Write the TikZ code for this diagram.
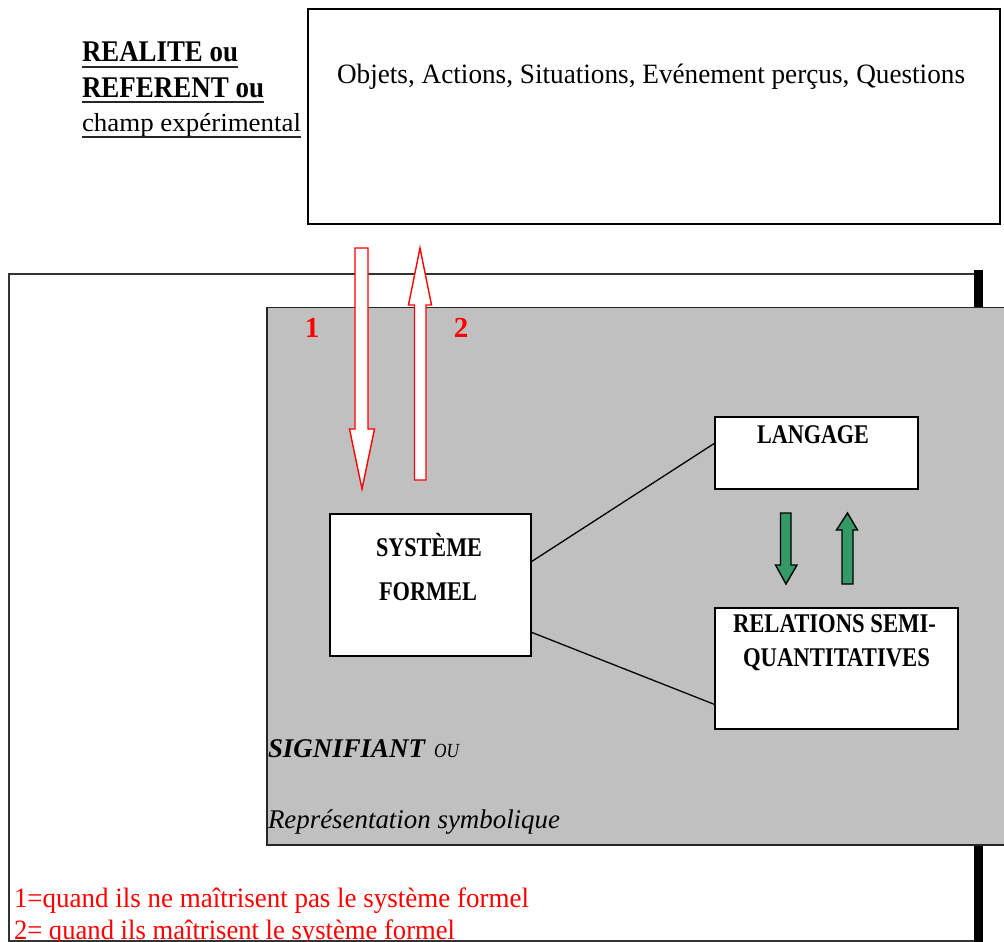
\documentclass[tikz,border=0pt]{standalone}
\usepackage{fontspec}
\setmainfont{Liberation Serif}
\usepackage{graphicx}
\usetikzlibrary{calc}
\definecolor{bggray}{RGB}{192,192,192}
\definecolor{sgreen}{RGB}{51,153,102}
\newcommand{\fw}[2]{\resizebox{#1}{\height}{#2}}
\newcommand{\fs}[1]{\fontsize{#1}{#1}\selectfont}
\begin{document}
\begin{tikzpicture}[x=1pt,y=-1pt,
  box/.style={draw=black,line width=1.6pt,fill=white,inner sep=0,anchor=north west},
  txt/.style={inner sep=0,outer sep=0,anchor=base west},
  ctxt/.style={inner sep=0,outer sep=0,anchor=base},
  redarr/.style={draw=red,fill=white,line width=1.4pt,line join=miter},
  grnarr/.style={draw=black,fill=sgreen,line width=1.4pt,line join=miter},
  link/.style={draw=black,line width=1.3pt},
  uline/.style={draw=black!85,line width=1.6pt}]
\useasboundingbox (0,0) rectangle (1004,942);
\clip (0,0) rectangle (1004,942);
\fill[white] (0,0) rectangle (1004,942);

% outer frame
\draw[line width=1.8pt,draw=black!80] (9,274) rectangle (978,941);
\fill[black] (974,270) rectangle (983,942);
% grey panel
\draw[fill=bggray,line width=1.8pt,draw=black!85] (267,307.5) rectangle (1015,845);

% top box
\node[box,minimum width=692pt,minimum height=215pt] (top) at (307,8) {};
\node[txt] (objets) at (337,83) {\fs{28}\fw{628pt}{Objets, Actions, Situations, Evénement perçus, Questions}};

% left labels
\node[txt] (real) at (82,62) {\fs{30}\bfseries\fw{156pt}{REALITE ou}};
\node[txt] (refe) at (82,97) {\fs{30}\bfseries\fw{182pt}{REFERENT ou}};
\node[txt] (champ) at (82,131) {\fs{26}\fw{219pt}{champ expérimental}};
\draw[uline] ($(real.base west)+(0,5)$) -- ($(real.base east)+(0,5)$);
\draw[uline] ($(refe.base west)+(0,5)$) -- ($(refe.base east)+(0,5)$);
\draw[uline] ($(champ.base west)+(0,6)$) -- ($(champ.base east)+(0,6)$);

% inner boxes
\node[box,minimum width=201pt,minimum height=142pt] (sys) at (329,513) {};
\node[box,minimum width=203pt,minimum height=72pt] (lang) at (714,416) {};
\node[box,minimum width=243pt,minimum height=121pt] (rel) at (714,607) {};

\node[ctxt] (systeme) at (429,556) {\fs{27}\bfseries\fw{106pt}{SYSTÈME}};
\node[ctxt] (formel) at (428,600) {\fs{27}\bfseries\fw{98pt}{FORMEL}};
\node[ctxt] (langage) at (813,443) {\fs{27}\bfseries\fw{112pt}{LANGAGE}};
\node[ctxt] (rel1) at (834.5,632) {\fs{27}\bfseries\fw{203pt}{RELATIONS SEMI-}};
\node[ctxt] (rel2) at (836.5,666) {\fs{27}\bfseries\fw{187pt}{QUANTITATIVES}};

% links
\draw[link] ($(sys.north east)!0.338!(sys.south east)$) -- ($(lang.north west)!0.375!(lang.south west)$);
\draw[link] ($(sys.north east)!0.831!(sys.south east)$) -- ($(rel.north west)!0.793!(rel.south west)$);

% red block arrows
\draw[redarr] (355,248) -- (368,248) -- (368,429) -- (374.5,429) -- (362,489) -- (349.5,429) -- (355,429) -- cycle;
\draw[redarr] (414.5,480) -- (426,480) -- (426,305) -- (431.5,305) -- (420,248) -- (408.5,305) -- (414.5,305) -- cycle;
\node[ctxt,text=red] (n1) at (312,337.5) {\fs{29}\bfseries 1};
\node[ctxt,text=red] (n2) at (461,337.5) {\fs{29}\bfseries 2};

% green block arrows
\draw[grnarr] (780.5,513) -- (791,513) -- (791,565) -- (797,565) -- (786,584) -- (775.5,565) -- (780.5,565) -- cycle;
\draw[grnarr] (842,584) -- (853,584) -- (853,530) -- (857.5,530) -- (847.5,513) -- (836.5,530) -- (842,530) -- cycle;

% panel captions
\node[txt] (signif) at (268,757) {\fs{27}\bfseries\itshape\fw{157pt}{SIGNIFIANT}};
\node[txt] (ou) at (434,757) {\fs{20}\itshape\fw{25pt}{OU}};
\node[txt] (repr) at (268,828) {\fs{27}\itshape\fw{292pt}{Représentation symbolique}};

% legend
\node[txt,text=red] (leg1) at (14,907) {\fs{28}\fw{515pt}{1=quand ils ne maîtrisent pas le système formel}};
\node[txt,text=red] (leg2) at (14,939) {\fs{28}\fw{441pt}{2= quand ils maîtrisent le système formel}};
\end{tikzpicture}
\end{document}
